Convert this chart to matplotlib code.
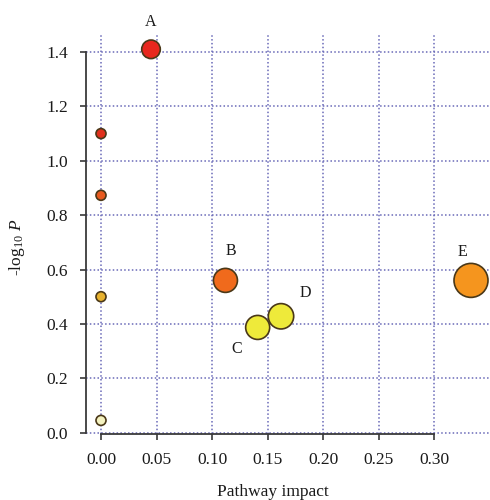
import matplotlib
matplotlib.use("Agg")
import matplotlib.pyplot as plt

plt.rcParams['font.family'] = ['Liberation Serif', 'DejaVu Serif']
plt.rcParams['mathtext.fontset'] = 'custom'
plt.rcParams['mathtext.rm'] = 'Liberation Serif'
plt.rcParams['mathtext.it'] = 'Liberation Serif:italic'

# data
impact = [0.045, 0.0, 0.0, 0.0, 0.0, 0.112, 0.141, 0.162, 0.333]
neglogp = [1.41, 1.10, 0.873, 0.50, 0.045, 0.56, 0.387, 0.428, 0.56]
sizes = [179, 52, 52, 52, 52, 299, 299, 334, 599]
colors = ['#e8281e', '#e0301c', '#e85a1e', '#e8b22e', '#f4f2c0',
          '#f06a1c', '#eeea3a', '#eeea3a', '#f5951e']
labels = ['A', '', '', '', '', 'B', 'C', 'D', 'E']
label_offsets = [(0, 27), None, None, None, None, (5, 29), (-21, -22), (24, 23), (-9, 28)]
xticks = [0.00, 0.05, 0.10, 0.15, 0.20, 0.25, 0.30]
yticks = [0.0, 0.2, 0.4, 0.6, 0.8, 1.0, 1.2, 1.4]

fig = plt.figure(figsize=(4.9, 5.0), dpi=100)
ax = fig.add_axes([86/490, 66/500, 404/490, 401/500])
ax.set_xlim(-0.0135, 0.3501)
ax.set_ylim(-0.005, 1.47)

grid_kw = dict(color='#6a6ab8', linewidth=1.1, linestyle=(0, (1, 1.5)), zorder=1)
for xt in xticks:
    ax.axvline(xt, **grid_kw)
for yt in yticks:
    ax.axhline(yt, **grid_kw)

ax.scatter(impact, neglogp, s=sizes, c=colors, edgecolors='#4a3818',
           linewidths=1.2, zorder=3)

for xv, yv, lab, off in zip(impact, neglogp, labels, label_offsets):
    if lab:
        ax.annotate(lab, (xv, yv), xytext=(off[0] * 0.72, off[1] * 0.72),
                    textcoords='offset points', ha='center', va='center',
                    fontsize=11.5, color='#1a1a1a', zorder=4)

for side in ['top', 'right']:
    ax.spines[side].set_visible(False)
ax.spines['left'].set_bounds(0.0, 1.4)
ax.spines['bottom'].set_bounds(0.0, 0.30)
for side in ['left', 'bottom']:
    ax.spines[side].set_color('#3a3a3a')
    ax.spines[side].set_linewidth(1.3)

ax.set_xticks(xticks)
ax.set_xticklabels([f'{v:.2f}' for v in xticks])
ax.set_yticks(yticks)
ax.set_yticklabels([f'{v:.1f}' for v in yticks])
ax.tick_params(axis='both', direction='out', length=4.5, width=1.2,
               color='#3a3a3a', labelsize=12.5, labelcolor='#1a1a1a', pad=8.5)

fig.text(273/490, 1 - 492/500, 'Pathway impact', ha='center', va='center',
         fontsize=12.5, color='#1a1a1a')
fig.text(17/490, 1 - 247/500, r'-log$_{10}$ $P$', ha='center', va='center',
         rotation=90, fontsize=12.5, color='#1a1a1a')

fig.savefig('out.png', dpi=100)
